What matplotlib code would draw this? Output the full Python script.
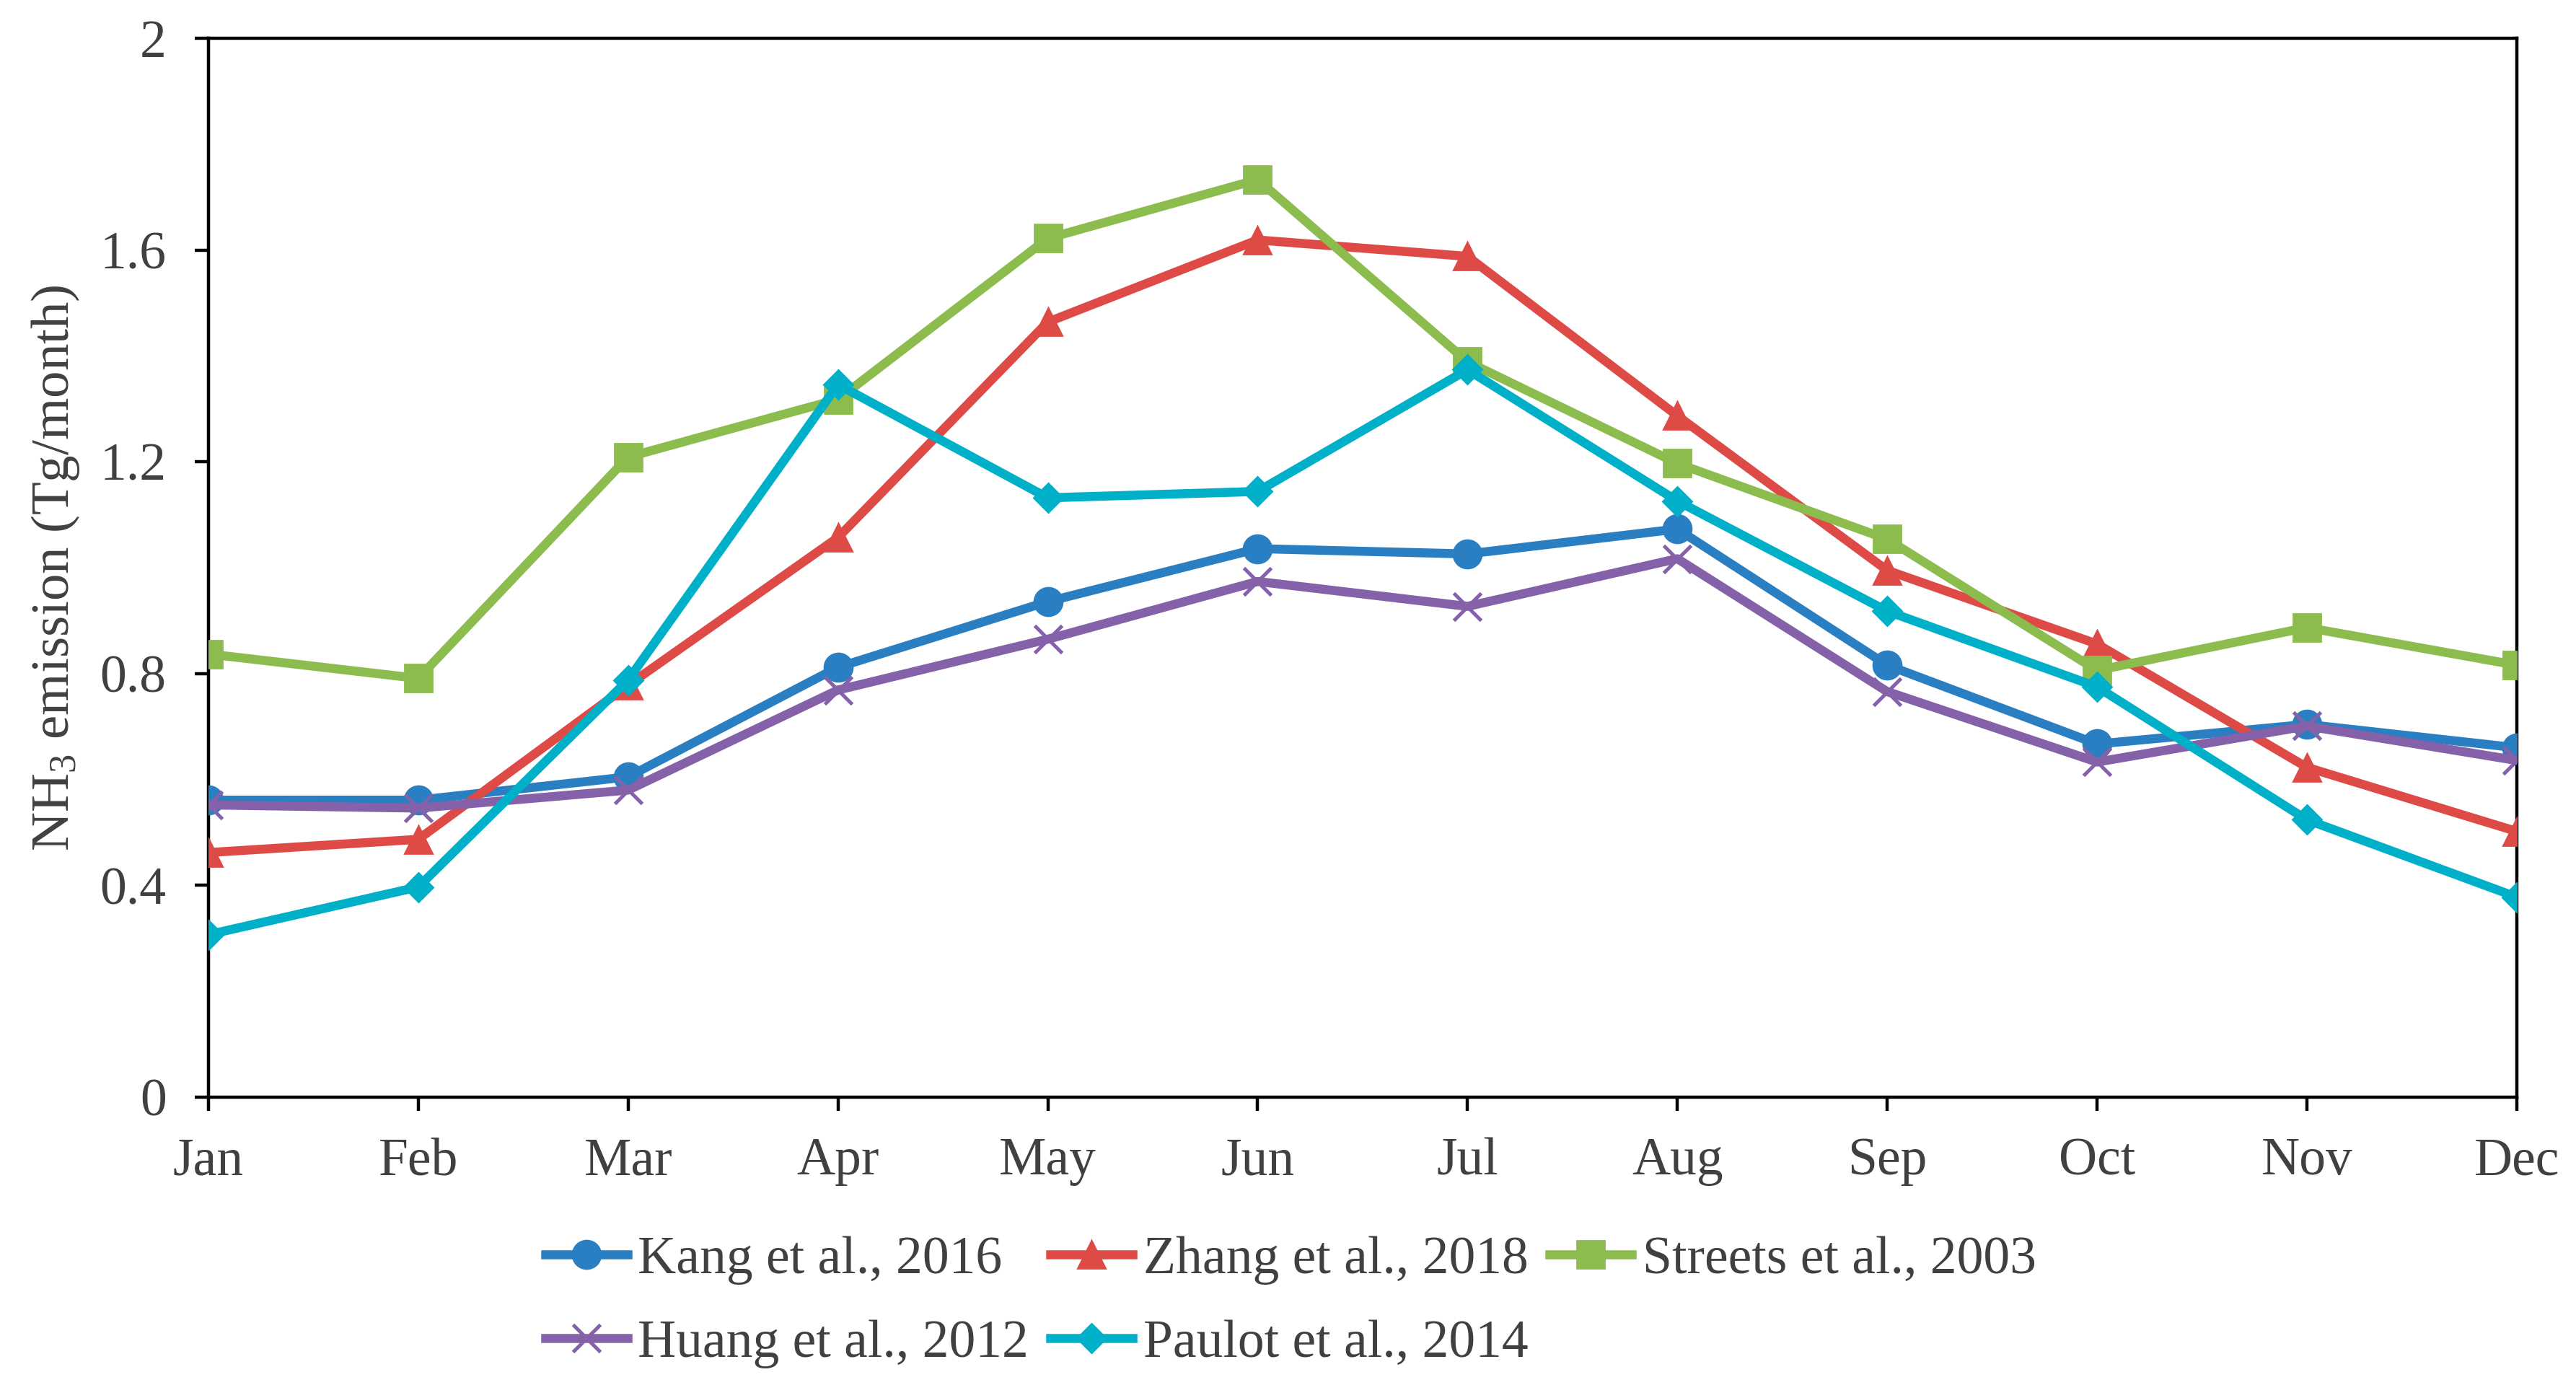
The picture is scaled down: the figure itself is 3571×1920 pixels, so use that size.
import matplotlib
matplotlib.use("Agg")
import matplotlib.pyplot as plt

plt.rcParams['font.family'] = ['Liberation Serif', 'DejaVu Serif']
plt.rcParams['mathtext.fontset'] = 'custom'
plt.rcParams['mathtext.rm'] = 'Liberation Serif'
plt.rcParams['mathtext.it'] = 'Liberation Serif:italic'

months = ["Jan", "Feb", "Mar", "Apr", "May", "Jun", "Jul", "Aug", "Sep", "Oct", "Nov", "Dec"]

kang = [0.561, 0.561, 0.605, 0.812, 0.936, 1.036, 1.026, 1.073, 0.816, 0.667, 0.704, 0.660]
zhang = [0.462, 0.487, 0.778, 1.057, 1.464, 1.619, 1.588, 1.287, 0.995, 0.856, 0.623, 0.502]
streets = [0.837, 0.791, 1.209, 1.318, 1.622, 1.733, 1.389, 1.197, 1.054, 0.806, 0.887, 0.816]
huang = [0.552, 0.546, 0.580, 0.769, 0.865, 0.974, 0.927, 1.017, 0.766, 0.633, 0.701, 0.636]
paulot = [0.307, 0.397, 0.788, 1.346, 1.132, 1.144, 1.374, 1.126, 0.918, 0.775, 0.524, 0.378]

labels = ["Kang et al., 2016", "Zhang et al., 2018", "Streets et al., 2003",
          "Huang et al., 2012", "Paulot et al., 2014"]
colors = ["#2A7EC2", "#DE4B47", "#8CBC4E", "#8461A8", "#00AFC8"]

yticks = [0, 0.4, 0.8, 1.2, 1.6, 2.0]
ytick_labels = ["0", "0.4", "0.8", "1.2", "1.6", "2"]

text_color = "#404040"
fs = 26.5

fig = plt.figure(figsize=(3571/200, 1920/200), dpi=200)
ax = fig.add_axes([0.0809, 0.2078, 0.977 - 0.0809, 0.9724 - 0.2078])

x = list(range(len(months)))
lw = 4.5
h_kang, = ax.plot(x, kang, color=colors[0], lw=lw, marker='o', ms=14, label=labels[0], zorder=3)
h_zhang, = ax.plot(x, zhang, color=colors[1], lw=lw, marker='^', ms=14, label=labels[1], zorder=3)
h_streets, = ax.plot(x, streets, color=colors[2], lw=lw, marker='s', ms=14, label=labels[2], zorder=3)
h_huang, = ax.plot(x, huang, color=colors[3], lw=lw, marker='x', ms=14, mew=1.8, label=labels[3], zorder=3)
h_paulot, = ax.plot(x, paulot, color=colors[4], lw=lw, marker='D', ms=10, label=labels[4], zorder=3)

ax.set_xlim(0, 11)
ax.set_ylim(0, 2)
ax.set_xticks(x)
ax.set_xticklabels(months)
ax.set_yticks(yticks)
ax.set_yticklabels(ytick_labels)

for s in ax.spines.values():
    s.set_linewidth(1.6)
    s.set_color("black")

ax.tick_params(axis='both', direction='out', length=7, width=1.6, color='black',
               labelsize=fs, labelcolor=text_color)
ax.tick_params(axis='x', pad=13)
ax.tick_params(axis='y', pad=14)

ax.set_ylabel("NH$_3$ emission (Tg/month)", fontsize=27, color=text_color, labelpad=9)

handles = [h_kang, h_huang, h_zhang, h_paulot, h_streets]
leg = fig.legend(handles=handles, labels=[h.get_label() for h in handles],
                 ncol=3, loc='center', bbox_to_anchor=(0.501, 0.060),
                 frameon=False, fontsize=26.5, handlelength=1.55, handletextpad=0.2,
                 columnspacing=0.4, labelspacing=0.66)
for t in leg.get_texts():
    t.set_color(text_color)

fig.savefig("out.png", dpi=200)
